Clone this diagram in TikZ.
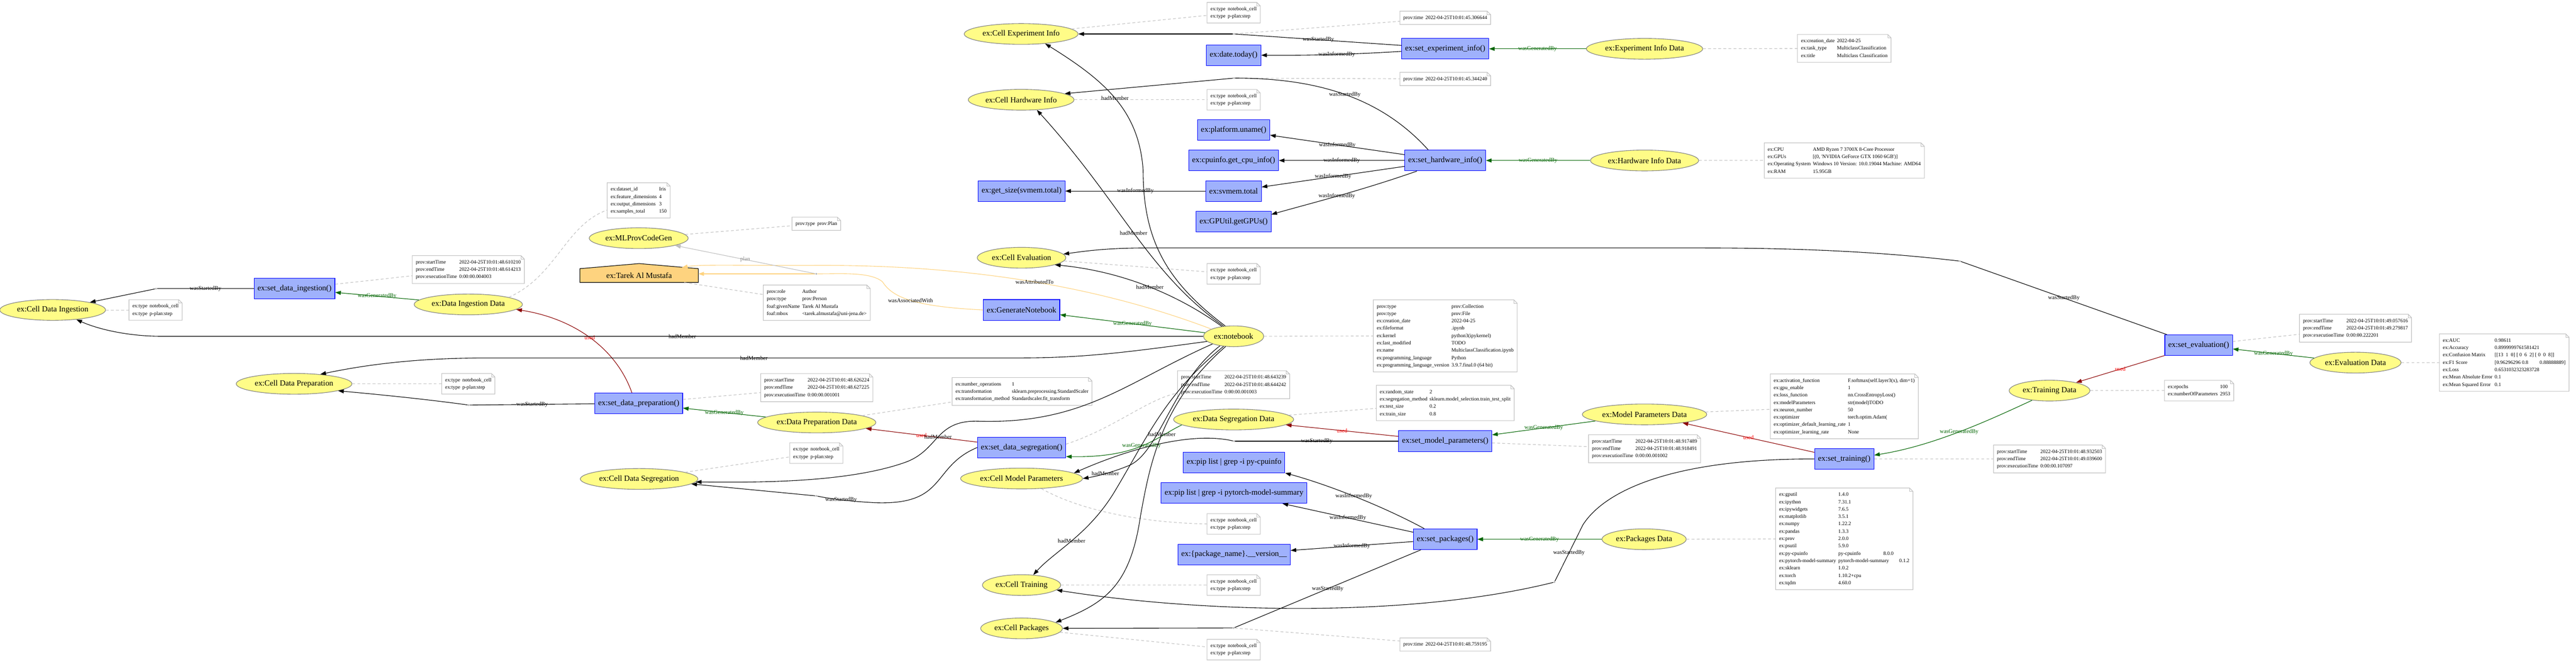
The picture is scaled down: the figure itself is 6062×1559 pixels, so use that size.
\documentclass[tikz,border=0pt]{standalone}
\usepackage{fontspec}
\setmainfont{Liberation Serif}
\usetikzlibrary{shapes.geometric, arrows.meta, backgrounds}

\definecolor{entityfill}{HTML}{FFFC87}
\definecolor{entityborder}{HTML}{808080}
\definecolor{activityfill}{HTML}{9FB1FC}
\definecolor{agentfill}{HTML}{FED37F}
\definecolor{agentline}{HTML}{FED37F}
\definecolor{notegray}{HTML}{C0C0C0}
\definecolor{gendark}{HTML}{006400}
\definecolor{usedred}{HTML}{8B0000}

\newcommand{\kv}[1]{\begin{tabular}{@{}l@{\hspace{4pt}}l@{}}#1\end{tabular}}
\newcommand{\celltext}{\kv{ex:type & notebook\_cell \\ ex:type & p-plan:step}}
\newcommand{\runtimes}[3]{\kv{prov:startTime & 2022-04-25T10:01:#1 \\ prov:endTime & 2022-04-25T10:01:#2 \\ prov:executionTime & 0:00:00.#3}}

\begin{document}
\begin{tikzpicture}[x=0.75pt, y=-0.75pt,
	entity/.style={ellipse, draw=entityborder, fill=entityfill, line width=1pt, inner xsep=3pt, inner ysep=0pt, minimum height=36.75pt, font=\fontsize{14}{16}\selectfont},
	activity/.style={rectangle, draw=blue, fill=activityfill, line width=1pt, inner xsep=6pt, minimum height=36.5pt, font=\fontsize{14}{16}\selectfont},
	agent/.style={inner sep=0pt, minimum width=208.5pt, minimum height=24pt, font=\fontsize{14}{16}\selectfont},
	notebox/.style={fill=white, inner xsep=6pt, inner ysep=5pt, font=\fontsize{9}{13}\selectfont},
	junction/.style={circle, fill=black!30, inner sep=0pt, minimum size=3.5pt},
	lbl/.style={font=\fontsize{10}{12}\selectfont, inner sep=1pt, text=black},
	genlbl/.style={lbl, text=gendark},
	usedlbl/.style={lbl, text=red},
	planlbl/.style={lbl, text=black!45},
	link/.style={line width=1pt},
	rel/.style={line width=1pt, -{Triangle[length=10pt, width=7pt]}},
	gen/.style={rel, gendark},
	usededge/.style={rel, usedred},
	attr/.style={rel, agentline},
	attrlink/.style={link, agentline},
	planedge/.style={rel, black!25},
	annot/.style={notegray, line width=1pt, dash pattern=on 5pt off 4pt}]
	
	\useasboundingbox (0,0) rectangle (6062,1559);
	
	%entities
	\node[entity] (cell ingestion) at (124,730) {ex:Cell Data Ingestion};
	\node[entity] (cell preparation) at (692,904) {ex:Cell Data Preparation};
	\node[entity] (cell experiment) at (2403,80) {ex:Cell Experiment Info};
	\node[entity] (cell hardware) at (2403,235) {ex:Cell Hardware Info};
	\node[entity] (codegen) at (1503,561) {ex:MLProvCodeGen};
	\node[entity] (cell evaluation) at (2404,607) {ex:Cell Evaluation};
	\node[entity] (notebook) at (2903,792) {ex:notebook};
	\node[entity] (ingestion data) at (1102,717) {ex:Data Ingestion Data};
	\node[entity] (preparation data) at (1922,995) {ex:Data Preparation Data};
	\node[entity] (segregation data) at (2903,988) {ex:Data Segregation Data};
	\node[entity] (cell segregation) at (1504,1128) {ex:Cell Data Segregation};
	\node[entity] (cell parameters) at (2404,1127) {ex:Cell Model Parameters};
	\node[entity] (cell training) at (2404,1378) {ex:Cell Training};
	\node[entity] (cell packages) at (2404,1480) {ex:Cell Packages};
	\node[entity] (experiment data) at (3870,115) {ex:Experiment Info Data};
	\node[entity] (hardware data) at (3870,378) {ex:Hardware Info Data};
	\node[entity] (parameters data) at (3870,976) {ex:Model Parameters Data};
	\node[entity] (packages data) at (3869,1270) {ex:Packages Data};
	\node[entity] (training data) at (4823,920) {ex:Training Data};
	\node[entity] (evaluation data) at (5543,854) {ex:Evaluation Data};
	
	%activities
	\node[activity] (set ingestion) at (693,680) {ex:set\_data\_ingestion()};
	\node[activity] (set preparation) at (1503,950) {ex:set\_data\_preparation()};
	\node[activity] (set experiment) at (3401,115) {ex:set\_experiment\_info()};
	\node[activity] (date today) at (2903,130) {ex:date.today()};
	\node[activity] (platform uname) at (2903,306) {ex:platform.uname()};
	\node[activity] (cpu info) at (2903,378) {ex:cpuinfo.get\_cpu\_info()};
	\node[activity] (set hardware) at (3401,378) {ex:set\_hardware\_info()};
	\node[activity] (svmem total) at (2903,450) {ex:svmem.total};
	\node[activity] (get size) at (2404,450) {ex:get\_size(svmem.total)};
	\node[activity] (get gpus) at (2903,522) {ex:GPUtil.getGPUs()};
	\node[activity] (generate notebook) at (2404,730) {ex:GenerateNotebook};
	\node[activity] (set segregation) at (2404,1054) {ex:set\_data\_segregation()};
	\node[activity] (set parameters) at (3401,1039) {ex:set\_model\_parameters()};
	\node[activity] (pip cpuinfo) at (2904,1089) {ex:pip list | grep -i py-cpuinfo};
	\node[activity] (pip summary) at (2904,1161) {ex:pip list | grep -i pytorch-model-summary};
	\node[activity] (set packages) at (3401,1270) {ex:set\_packages()};
	\node[activity] (package version) at (2904,1306) {ex:\{package\_name\}.\_\_version\_\_};
	\node[activity] (set training) at (4340,1081) {ex:set\_training()};
	\node[activity] (set evaluation) at (5174,813) {ex:set\_evaluation()};
	
	%agent
	\node[agent] (tarek) at (1504,649) {ex:Tarek Al Mustafa};
	\begin{scope}[on background layer]
		\filldraw[fill=agentfill, draw=black, line width=1pt] (tarek.south west) -- (tarek.north west) -- ([yshift=9pt]tarek.north) -- (tarek.north east) -- (tarek.south east) -- cycle;
	\end{scope}
	
	%junctions
	\node[junction] (ingestion start) at (367,680) {};
	\node[junction] (preparation start) at (1103,954) {};
	\node[junction] (experiment start) at (2904,80) {};
	\node[junction] (hardware start) at (2904,184) {};
	\node[junction] (assoc) at (1921,645) {};
	\node[junction] (segregation start) at (1921,1168) {};
	\node[junction] (parameters start) at (2904,1039) {};
	\node[junction] (packages start) at (2903,1479) {};
	\node[junction] (training start) at (3658,1371) {};
	\node[junction] (evaluation start) at (4612,615) {};
	
	%notes
	\node[notebox] (ingestion cell note) at (366,730) {\celltext};
	\node[notebox] (ingestion time note) at (1102,635) {\runtimes{48.610210}{48.614213}{004003}};
	\node[notebox] (ingestion data note) at (1503,472) {\kv{ex:dataset\_id & Iris \\ ex:feature\_dimensions & 4 \\ ex:output\_dimensions & 3 \\ ex:samples\_total & 150}};
	\node[notebox] (preparation cell note) at (1102,904) {\celltext};
	\node[notebox] (codegen note) at (1921,527) {\kv{prov:type & prov:Plan}};
	\node[notebox] (tarek note) at (1922,713) {\kv{prov:role & Author \\ prov:type & prov:Person \\ foaf:givenName & Tarek Al Mustafa \\ foaf:mbox & <tarek.almustafa@uni-jena.de>}};
	\node[notebox] (preparation time note) at (1922,913) {\runtimes{48.626224}{48.627225}{001001}};
	\node[notebox] (preparation data note) at (2405,922) {\kv{ex:number\_operations & 1 \\ ex:transformation & sklearn.preprocessing.StandardScaler \\ ex:transformation\_method & Standardscaler.fit\_transform}};
	\node[notebox] (segregation cell note) at (1921,1067) {\celltext};
	\node[notebox] (experiment cell note) at (2903,30) {\celltext};
	\node[notebox] (hardware cell note) at (2903,235) {\celltext};
	\node[notebox] (experiment time note) at (3401,42) {\kv{prov:time & 2022-04-25T10:01:45.306644}};
	\node[notebox] (hardware time note) at (3401,186) {\kv{prov:time & 2022-04-25T10:01:45.344240}};
	\node[notebox] (experiment data note) at (4340,114) {\kv{ex:creation\_date & 2022-04-25 \\ ex:task\_type & MulticlassClassification \\ ex:title & Multiclass Classification}};
	\node[notebox] (hardware data note) at (4340,378) {\kv{ex:CPU & AMD Ryzen 7 3700X 8-Core Processor \\ ex:GPUs & [(0, \textquotesingle NVIDIA GeForce GTX 1060 6GB\textquotesingle)] \\ ex:Operating System & Windows 10 Version: 10.0.19044 Machine: AMD64 \\ ex:RAM & 15.95GB}};
	\node[notebox] (evaluation cell note) at (2903,645) {\celltext};
	\node[notebox] (notebook note) at (3401,791) {\kv{prov:type & prov:Collection \\ prov:type & prov:File \\ ex:creation\_date & 2022-04-25 \\ ex:fileformat & .ipynb \\ ex:kernel & python3(ipykernel) \\ ex:last\_modified & TODO \\ ex:name & MulticlassClassification.ipynb \\ ex:programming\_language & Python \\ ex:programming\_language\_version & 3.9.7.final.0 (64 bit)}};
	\node[notebox] (segregation time note) at (2903,906) {\runtimes{48.643239}{48.644242}{001003}};
	\node[notebox] (segregation data note) at (3401,949) {\kv{ex:random\_state & 2 \\ ex:segregation\_method & sklearn.model\_selection.train\_test\_split \\ ex:test\_size & 0.2 \\ ex:train\_size & 0.8}};
	\node[notebox] (parameters time note) at (3870,1057) {\runtimes{48.917489}{48.918491}{001002}};
	\node[notebox] (parameters data note) at (4340,957) {\kv{ex:activation\_function & F.softmax(self.layer3(x), dim=1) \\ ex:gpu\_enable & 1 \\ ex:loss\_function & nn.CrossEntropyLoss() \\ ex:modelParameters & str(model)TODO \\ ex:neuron\_number & 50 \\ ex:optimizer & torch.optim.Adam( \\ ex:optimizer\_default\_learning\_rate & 1 \\ ex:optimizer\_learning\_rate & None}};
	\node[notebox] (parameters cell note) at (2903,1234) {\celltext};
	\node[notebox] (training cell note) at (2903,1378) {\celltext};
	\node[notebox] (packages cell note) at (2903,1530) {\celltext};
	\node[notebox] (packages time note) at (3401,1518) {\kv{prov:time & 2022-04-25T10:01:48.759195}};
	\node[notebox] (packages data note) at (4340,1269) {\kv{ex:gputil & 1.4.0 \\ ex:ipython & 7.31.1 \\ ex:ipywidgets & 7.6.5 \\ ex:matplotlib & 3.5.1 \\ ex:numpy & 1.22.2 \\ ex:pandas & 1.3.3 \\ ex:prov & 2.0.0 \\ ex:psutil & 5.9.0 \\ ex:py-cpuinfo & py-cpuinfo\hspace{40pt}8.0.0 \\ ex:pytorch-model-summary & pytorch-model-summary\hspace{18pt}0.1.2 \\ ex:sklearn & 1.0.2 \\ ex:torch & 1.10.2+cpu \\ ex:tqdm & 4.60.0}};
	\node[notebox] (training time note) at (4823,1081) {\runtimes{48.932503}{49.039600}{107097}};
	\node[notebox] (training data note) at (5175,920) {\kv{ex:epochs & 100 \\ ex:numberOfParameters & 2953}};
	\node[notebox] (evaluation time note) at (5543,773) {\runtimes{49.057616}{49.279817}{222201}};
	\node[notebox] (evaluation data note) at (5893,854) {\kv{ex:AUC & 0.98611 \\ ex:Accuracy & 0.8999999761581421 \\ ex:Confusion Matrix & [[13\ \ 1\ \ 0]\ [\ 0\ \ 6\ \ 2]\ [\ 0\ \ 0\ \ 8]] \\ ex:F1 Score & [0.96296296 0.8\hspace{20pt}0.88888889] \\ ex:Loss & 0.6531032323283728 \\ ex:Mean Absolute Error & 0.1 \\ ex:Mean Squared Error & 0.1}};
	
	%folded note outlines
	\foreach \n in {ingestion cell note,ingestion time note,ingestion data note,preparation cell note,codegen note,tarek note,preparation time note,preparation data note,segregation cell note,experiment cell note,hardware cell note,experiment time note,hardware time note,experiment data note,hardware data note,evaluation cell note,notebook note,segregation time note,segregation data note,parameters time note,parameters data note,parameters cell note,training cell note,packages cell note,packages time note,packages data note,training time note,training data note,evaluation time note,evaluation data note} {
		\draw[notegray, line width=1pt] (\n.north west) -- ([xshift=-6pt]\n.north east) -- ([yshift=-6pt]\n.north east) -- (\n.south east) -- (\n.south west) -- cycle;
		\draw[notegray, line width=.75pt] ([xshift=-6pt]\n.north east) |- ([yshift=-6pt]\n.north east);
	}
	
	%annotations
	\draw[annot] (cell ingestion) -- (ingestion cell note);
	\draw[annot] (set ingestion) -- (ingestion time note);
	\draw[annot] (ingestion data.10) .. controls (1310,650) and (1330,530) .. ([yshift=-17pt]ingestion data note.west);
	\draw[annot] (cell preparation) -- (preparation cell note);
	\draw[annot] (codegen) -- (codegen note);
	\draw[annot] (tarek) -- (tarek note);
	\draw[annot] (set preparation) -- (preparation time note);
	\draw[annot] (preparation data) -- (preparation data note);
	\draw[annot] (cell segregation) -- (segregation cell note);
	\draw[annot] (cell experiment) -- (experiment cell note);
	\draw[annot] (cell hardware) -- (hardware cell note);
	\draw[annot] (experiment start) -- (experiment time note);
	\draw[annot] (hardware start) -- (hardware time note);
	\draw[annot] (experiment data) -- (experiment data note);
	\draw[annot] (hardware data) -- (hardware data note);
	\draw[annot] (cell evaluation) -- (evaluation cell note);
	\draw[annot] (notebook) -- (notebook note);
	\draw[annot] ([yshift=6pt]set segregation.east) .. controls (2620,1010) and (2700,940) .. ([yshift=10pt]segregation time note.south west);
	\draw[annot] (segregation data) -- (segregation data note);
	\draw[annot] (set parameters) -- (parameters time note);
	\draw[annot] (parameters data) -- (parameters data note);
	\draw[annot] (cell parameters.-27) .. controls (2520,1190) and (2650,1230) .. (parameters cell note.west);
	\draw[annot] (cell training) -- (training cell note);
	\draw[annot] (cell packages) -- (packages cell note);
	\draw[annot] (packages start) -- (packages time note);
	\draw[annot] (packages data) -- (packages data note);
	\draw[annot] (set training) -- (training time note);
	\draw[annot] (training data) -- (training data note);
	\draw[annot] (set evaluation) -- (evaluation time note);
	\draw[annot] (evaluation data) -- (evaluation data note);
	
	%wasStartedBy
	\draw[link] (set ingestion) -- node[lbl, at={(500,672)}] {wasStartedBy} (ingestion start);
	\draw[rel] (ingestion start) -- (cell ingestion);
	\draw[link] (set preparation) -- node[lbl, at={(1303,944)}] {wasStartedBy} (preparation start);
	\draw[rel] (preparation start) .. controls (1000,940) and (900,930) .. (cell preparation.-9);
	\draw[link] ([yshift=6pt]set experiment.west) -- node[lbl, at={(3144,87)}] {wasStartedBy} (experiment start);
	\draw[rel] (experiment start) -- (cell experiment);
	\draw[link] ([xshift=-30pt]set hardware.north) .. controls (3250,230) and (3100,184) .. node[lbl, at={(3144,203)}] {wasStartedBy} (hardware start);
	\draw[rel] (hardware start) -- (cell hardware.8);
	\draw[link] (set segregation.west) .. controls (2190,1100) and (2230,1190) .. (2060,1184) .. controls (2000,1181) and (1950,1174) .. node[lbl, at={(2139,1137)}] {wasStartedBy} (segregation start);
	\draw[rel] (segregation start) -- (cell segregation);
	\draw[link] (set parameters) -- node[lbl, at={(3144,1031)}] {wasStartedBy} (parameters start);
	\draw[rel] (parameters start) .. controls (2800,1015) and (2650,1060) .. (cell parameters.6);
	\draw[link] ([xshift=-43pt]set packages.south) -- node[lbl, at={(3142,1360)}] {wasStartedBy} (packages start);
	\draw[rel] (packages start) -- (cell packages);
	\draw[link] (set training.west) .. controls (3950,1080) and (3780,1150) .. (3725,1236) -- node[lbl, at={(4072,1084)}] {wasStartedBy} (training start);
	\draw[rel] (training start) .. controls (3300,1460) and (2800,1440) .. (cell training.-8);
	\draw[link] ([xshift=4pt]set evaluation.north west) -- node[lbl, at={(5022,739)}] {wasStartedBy} (evaluation start);
	\draw[rel] (evaluation start) .. controls (4400,590) and (4200,584) .. (4000,584) -- (2700,584) .. controls (2600,584) and (2550,592) .. (cell evaluation.5);
	
	%wasInformedBy
	\draw[rel] ([yshift=-4.5pt]set experiment.west) .. controls (3200,127) and (3100,131) .. node[lbl, at={(3144,119)}] {wasInformedBy} (date today.east);
	\draw[rel] (set hardware) -- node[lbl, at={(3144,328)}] {wasInformedBy} (platform uname);
	\draw[rel] (set hardware) -- node[lbl, at={(3144,371)}] {wasInformedBy} (cpu info);
	\draw[rel] (set hardware) -- node[lbl, at={(3144,401)}] {wasInformedBy} (svmem total);
	\draw[rel] ([xshift=-50pt]set hardware.south) .. controls (3200,450) and (3080,480) .. node[lbl, at={(3144,445)}] {wasInformedBy} ([yshift=12.75pt]get gpus.east);
	\draw[rel] (svmem total) -- node[lbl, at={(2659,443)}] {wasInformedBy} (get size);
	\draw[rel] ([xshift=-37pt]set packages.north) .. controls (3250,1190) and (3120,1140) .. node[lbl, at={(3142,1125)}] {wasInformedBy} (pip cpuinfo.south east);
	\draw[rel] (set packages) -- node[lbl, at={(3142,1196)}] {wasInformedBy} (pip summary);
	\draw[rel] (set packages) -- node[lbl, at={(3142,1276)}] {wasInformedBy} (package version);
	
	%wasGeneratedBy
	\draw[gen] (ingestion data) -- node[genlbl, at={(893,685)}] {wasGeneratedBy} (set ingestion);
	\draw[gen] (preparation data) -- node[genlbl, at={(1711,960)}] {wasGeneratedBy} (set preparation);
	\draw[gen] (experiment data) -- node[genlbl, at={(3660,107)}] {wasGeneratedBy} (set experiment);
	\draw[gen] (hardware data) -- node[genlbl, at={(3660,371)}] {wasGeneratedBy} (set hardware);
	\draw[gen] (notebook) -- node[genlbl, at={(2657,749)}] {wasGeneratedBy} (generate notebook);
	\draw[gen] (segregation data.186) .. controls (2720,1030) and (2680,1078) .. node[genlbl, at={(2657,1046)}] {wasGeneratedBy} ([yshift=-16pt]set segregation.east);
	\draw[gen] (parameters data) -- node[genlbl, at={(3660,989)}] {wasGeneratedBy} (set parameters);
	\draw[gen] (packages data) -- node[genlbl, at={(3658,1261)}] {wasGeneratedBy} (set packages);
	\draw[gen] (training data.209) .. controls (4680,990) and (4550,1050) .. node[genlbl, at={(4612,995)}] {wasGeneratedBy} ([yshift=6.75pt]set training.east);
	\draw[gen] (evaluation data) -- node[genlbl, at={(5331,819)}] {wasGeneratedBy} (set evaluation);
	
	%used
	\draw[usededge] ([xshift=-12pt]set preparation.north) .. controls (1450,820) and (1350,750) .. node[usedlbl, at={(1303,731)}] {used} (ingestion data.-6);
	\draw[usededge] (set segregation) -- node[usedlbl, at={(2139,1007)}] {used} (preparation data);
	\draw[usededge] (set parameters) -- node[usedlbl, at={(3144,1000)}] {used} (segregation data);
	\draw[usededge] (set training) -- node[usedlbl, at={(4072,1011)}] {used} (parameters data);
	\draw[usededge] (set evaluation) -- node[usedlbl, at={(5022,839)}] {used} (training data);
	
	%hadMember
	\draw[rel] (notebook.west) -- node[lbl, at={(1303,784)}] {hadMember} (380,792) .. controls (300,792) and (230,775) .. (cell ingestion.-22);
	\draw[rel] (notebook.191) .. controls (2650,830) and (2550,843) .. (2398,843) -- node[lbl, at={(1711,835)}] {hadMember} (1150,843) .. controls (1000,843) and (880,855) .. (cell preparation.20);
	\draw[rel] (notebook.129) .. controls (2740,660) and (2690,560) .. (2690,400) .. controls (2680,260) and (2600,190) .. node[lbl, at={(2659,220)}] {hadMember} (cell experiment.-22);
	\draw[rel] (notebook.135) .. controls (2700,640) and (2640,480) .. node[lbl, at={(2659,460)}] {hadMember} (cell hardware.-33);
	\draw[rel] (notebook.140) .. controls (2780,700) and (2650,640) .. node[lbl, at={(2657,647)}] {hadMember} (cell evaluation.-12);
	\draw[rel] (notebook.200) .. controls (2650,900) and (2550,1000) .. (2300,992) .. controls (2200,990) and (2210,1060) .. node[lbl, at={(2139,1040)}] {hadMember} (2130,1089) .. controls (2000,1135) and (1800,1137) .. (cell segregation.-3);
	\draw[rel] (notebook.215) .. controls (2760,900) and (2730,1060) .. (2660,1095) .. controls (2620,1112) and (2580,1122) .. node[lbl, at={(2657,1089)}] {hadMember} (cell parameters.east);
	\draw[rel] (notebook.225) .. controls (2740,930) and (2700,1030) .. (2621,1161) .. controls (2560,1260) and (2480,1300) .. node[lbl, at={(2657,1177)}] {hadMember} (cell training.41);
	\draw[rel] (notebook.232) .. controls (2730,950) and (2705,1100) .. node[lbl, at={(2657,968)}] {hadMember} (2684,1214) .. controls (2660,1380) and (2600,1420) .. (cell packages.10);
	
	%agent relations
	\draw[attr] (notebook.162) .. controls (2600,680) and (2300,624) .. node[lbl, at={(2139,622)}] {wasAttributedTo} (1925,625) .. controls (1750,626) and (1650,622) .. ([xshift=-29pt,yshift=2pt]tarek.north east);
	\draw[attrlink] (generate notebook.west) .. controls (2150,722) and (2100,700) .. node[lbl, at={(2139,673)}] {wasAssociatedWith} (2077,664) .. controls (2050,640) and (1980,645) .. (assoc);
	\draw[attr] (assoc) -- (assoc -| tarek.east);
	\draw[planedge] (assoc) -- node[planlbl, at={(1711,587)}] {plan} (codegen);
\end{tikzpicture}
\end{document}
